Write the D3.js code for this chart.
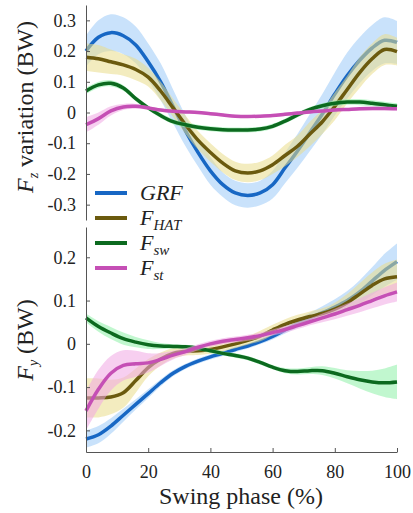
<!DOCTYPE html>
<html>
<head>
<meta charset="utf-8">
<script src="https://cdn.jsdelivr.net/npm/d3@7"></script>
</head>
<body style="margin:0">
<div id="chart"></div>
<script>
// swing phase sample points (%)
let phase = [0,4,8,12,16,20,24,28,32,36,40,44,48,52,56,60,64,68,72,76,80,84,88,92,96,100];

// top panel, Fz variation (BW): means and band half widths
let grfZ = [0.20,0.245,0.26,0.25,0.22,0.165,0.10,0.02,-0.06,-0.13,-0.19,-0.235,-0.262,-0.27,-0.262,-0.235,-0.18,-0.125,-0.065,-0.005,0.06,0.12,0.17,0.21,0.235,0.228];
let grfZsd = [0.05,0.055,0.06,0.06,0.06,0.06,0.06,0.055,0.05,0.045,0.045,0.04,0.04,0.04,0.04,0.045,0.05,0.055,0.06,0.065,0.07,0.075,0.075,0.075,0.075,0.07];
let hatZ = [0.18,0.175,0.165,0.155,0.14,0.115,0.07,0.015,-0.04,-0.09,-0.13,-0.165,-0.19,-0.197,-0.19,-0.17,-0.14,-0.11,-0.07,-0.03,0.02,0.075,0.13,0.175,0.205,0.198];
let hatZsd = [0.045,0.045,0.04,0.035,0.035,0.03,0.03,0.03,0.03,0.03,0.03,0.03,0.03,0.03,0.03,0.03,0.035,0.035,0.04,0.04,0.045,0.045,0.05,0.05,0.05,0.045];
let swZ = [0.07,0.09,0.095,0.08,0.045,0.015,-0.01,-0.03,-0.04,-0.048,-0.053,-0.056,-0.057,-0.057,-0.054,-0.045,-0.028,-0.008,0.01,0.022,0.03,0.034,0.034,0.03,0.025,0.02];
let swZsd = [0.01,0.01,0.01,0.009,0.008,0.008,0.008,0.008,0.008,0.008,0.008,0.008,0.008,0.008,0.008,0.008,0.008,0.008,0.008,0.008,0.009,0.009,0.01,0.01,0.01,0.01];
let stZ = [-0.04,-0.02,0.005,0.018,0.02,0.015,0.008,0.004,0.002,0,-0.004,-0.008,-0.012,-0.013,-0.012,-0.01,-0.006,-0.002,0.002,0.005,0.008,0.01,0.012,0.013,0.013,0.012];
let stZsd = [0.025,0.02,0.015,0.01,0.008,0.006,0.005,0.005,0.005,0.005,0.005,0.005,0.005,0.005,0.005,0.005,0.005,0.005,0.005,0.005,0.005,0.005,0.006,0.006,0.006,0.006];

// bottom panel, Fy (BW)
let grfY = [-0.22,-0.21,-0.19,-0.165,-0.14,-0.115,-0.09,-0.068,-0.052,-0.04,-0.03,-0.022,-0.013,-0.005,0.005,0.017,0.032,0.047,0.06,0.072,0.085,0.1,0.12,0.145,0.17,0.19];
let grfYsd = [0.02,0.02,0.018,0.015,0.012,0.01,0.008,0.007,0.006,0.006,0.006,0.006,0.006,0.006,0.006,0.007,0.008,0.01,0.012,0.015,0.018,0.022,0.027,0.032,0.038,0.042];
let hatY = [-0.125,-0.125,-0.123,-0.113,-0.085,-0.055,-0.035,-0.022,-0.017,-0.016,-0.013,-0.007,0.0,0.008,0.018,0.032,0.045,0.055,0.063,0.07,0.08,0.095,0.115,0.135,0.15,0.155];
let hatYsd = [0.045,0.045,0.04,0.035,0.028,0.02,0.015,0.012,0.01,0.01,0.01,0.01,0.01,0.01,0.012,0.012,0.012,0.012,0.012,0.012,0.015,0.02,0.025,0.03,0.035,0.04];
let swY = [0.06,0.04,0.025,0.012,0.004,-0.002,-0.005,-0.006,-0.007,-0.01,-0.016,-0.022,-0.027,-0.033,-0.043,-0.054,-0.062,-0.064,-0.062,-0.062,-0.068,-0.076,-0.083,-0.088,-0.09,-0.088];
let swYsd = [0.01,0.012,0.014,0.014,0.012,0.01,0.007,0.005,0.005,0.005,0.005,0.005,0.005,0.005,0.005,0.005,0.006,0.007,0.008,0.01,0.012,0.015,0.02,0.026,0.033,0.04];
let stY = [-0.155,-0.105,-0.068,-0.05,-0.046,-0.044,-0.036,-0.026,-0.018,-0.008,0.0,0.006,0.01,0.014,0.019,0.026,0.033,0.042,0.051,0.06,0.069,0.079,0.089,0.1,0.111,0.12];
let stYsd = [0.045,0.045,0.04,0.035,0.03,0.022,0.015,0.01,0.008,0.007,0.007,0.007,0.007,0.007,0.007,0.007,0.008,0.008,0.008,0.01,0.012,0.014,0.016,0.018,0.02,0.022];

// ticks
let xTicks = [0, 20, 40, 60, 80, 100];
let yTicksTop = [-0.3, -0.2, -0.1, 0, 0.1, 0.2, 0.3];
let yTicksBottom = [-0.2, -0.1, 0, 0.1, 0.2];

// series names + colours
let seriesNames = ["GRF", "HAT", "sw", "st"];
let lineColors = ["#1767c4", "#6b5a0e", "#0c6a1f", "#c54fb5"];
let bandColors = ["#9ccbf7", "#eadc8a", "#8ef0a8", "#f0a8e4"];

let width = 413, height = 513;

let svg = d3.select("#chart")
    .append("svg")
    .attr("width", width)
    .attr("height", height);

let x = d3.scaleLinear().domain([0, 100]).range([86, 397]);
let yTop = d3.scaleLinear().domain([-0.35, 0.35]).range([220, 5]);
let yBottom = d3.scaleLinear().domain([-0.25, 0.27]).range([452, 227]);

let fmt = function(d) { return d === 0 ? "0" : d.toFixed(1); };

// every text gets the serif face, as attribute and inline style both
function serif(sel, size, italic) {
    sel.attr("font-family", "Times New Roman")
        .style("font-family", "'Times New Roman'")
        .style("font-size", size + "px")
        .style("font-style", italic ? "italic" : "normal")
        .style("fill", "#222");
    return sel;
}

function drawPanel(y, means, sds) {
    let g = svg.append("g");
    means.forEach(function(m, i) {
        let rows = phase.map(function(p, j) { return {p: p, v: m[j], s: sds[i][j]}; });
        let area = d3.area()
            .curve(d3.curveCatmullRom)
            .x(function(d) { return x(d.p); })
            .y0(function(d) { return y(d.v - d.s); })
            .y1(function(d) { return y(d.v + d.s); });
        let line = d3.line()
            .curve(d3.curveCatmullRom)
            .x(function(d) { return x(d.p); })
            .y(function(d) { return y(d.v); });
        g.append("path")
            .datum(rows)
            .attr("d", area)
            .attr("fill", bandColors[i])
            .attr("fill-opacity", 0.55);
        g.append("path")
            .datum(rows)
            .attr("d", line)
            .attr("fill", "none")
            .attr("stroke", lineColors[i])
            .attr("stroke-width", 3.5);
    });
    return g;
}

drawPanel(yTop, [grfZ, hatZ, swZ, stZ], [grfZsd, hatZsd, swZsd, stZsd]);
drawPanel(yBottom, [grfY, hatY, swY, stY], [grfYsd, hatYsd, swYsd, stYsd]);

// axes - ticks point inward
let axes = [
    svg.append("g").attr("transform", "translate(86,0)")
        .call(d3.axisLeft(yTop).tickValues(yTicksTop).tickFormat(fmt).tickSize(-4).tickSizeOuter(0).tickPadding(10)),
    svg.append("g").attr("transform", "translate(86,0)")
        .call(d3.axisLeft(yBottom).tickValues(yTicksBottom).tickFormat(fmt).tickSize(-4).tickSizeOuter(0).tickPadding(10)),
    svg.append("g").attr("transform", "translate(0,452)")
        .call(d3.axisBottom(x).tickValues(xTicks).tickSize(-4).tickSizeOuter(0).tickPadding(13))
];
axes.forEach(function(a) {
    a.attr("font-family", "Times New Roman").attr("font-size", 18);
    a.selectAll("path, line").attr("stroke", "#555");
    serif(a.selectAll("text"), 18, false);
});

// axis labels
serif(svg.append("text"), 24, false)
    .attr("x", 241)
    .attr("y", 504)
    .attr("text-anchor", "middle")
    .text("Swing phase (%)");

let labTop = serif(svg.append("text"), 24, false)
    .attr("transform", "translate(33,107) rotate(-90)")
    .attr("text-anchor", "middle");
serif(labTop.append("tspan"), 24, true).text("F");
serif(labTop.append("tspan"), 14, true).attr("dy", 5).text("z");
serif(labTop.append("tspan"), 24, false).attr("dy", -5).text(" variation (BW)");

let labBottom = serif(svg.append("text"), 24, false)
    .attr("transform", "translate(33,340) rotate(-90)")
    .attr("text-anchor", "middle");
serif(labBottom.append("tspan"), 24, true).text("F");
serif(labBottom.append("tspan"), 14, true).attr("dy", 5).text("y");
serif(labBottom.append("tspan"), 24, false).attr("dy", -5).text(" (BW)");

// legend
let legend = svg.append("g");
seriesNames.forEach(function(name, i) {
    let ly = 193 + i * 25;
    legend.append("line")
        .attr("x1", 95).attr("x2", 127)
        .attr("y1", ly).attr("y2", ly)
        .attr("stroke", lineColors[i])
        .attr("stroke-width", 4);
    let t = serif(legend.append("text"), 22, true)
        .attr("x", 140)
        .attr("y", ly + 7);
    if (i === 0) {
        t.text("GRF");
    } else {
        serif(t.append("tspan"), 22, true).text("F");
        serif(t.append("tspan"), 15, true).attr("dy", 5).text(name);
    }
});
</script>
</body>
</html>
